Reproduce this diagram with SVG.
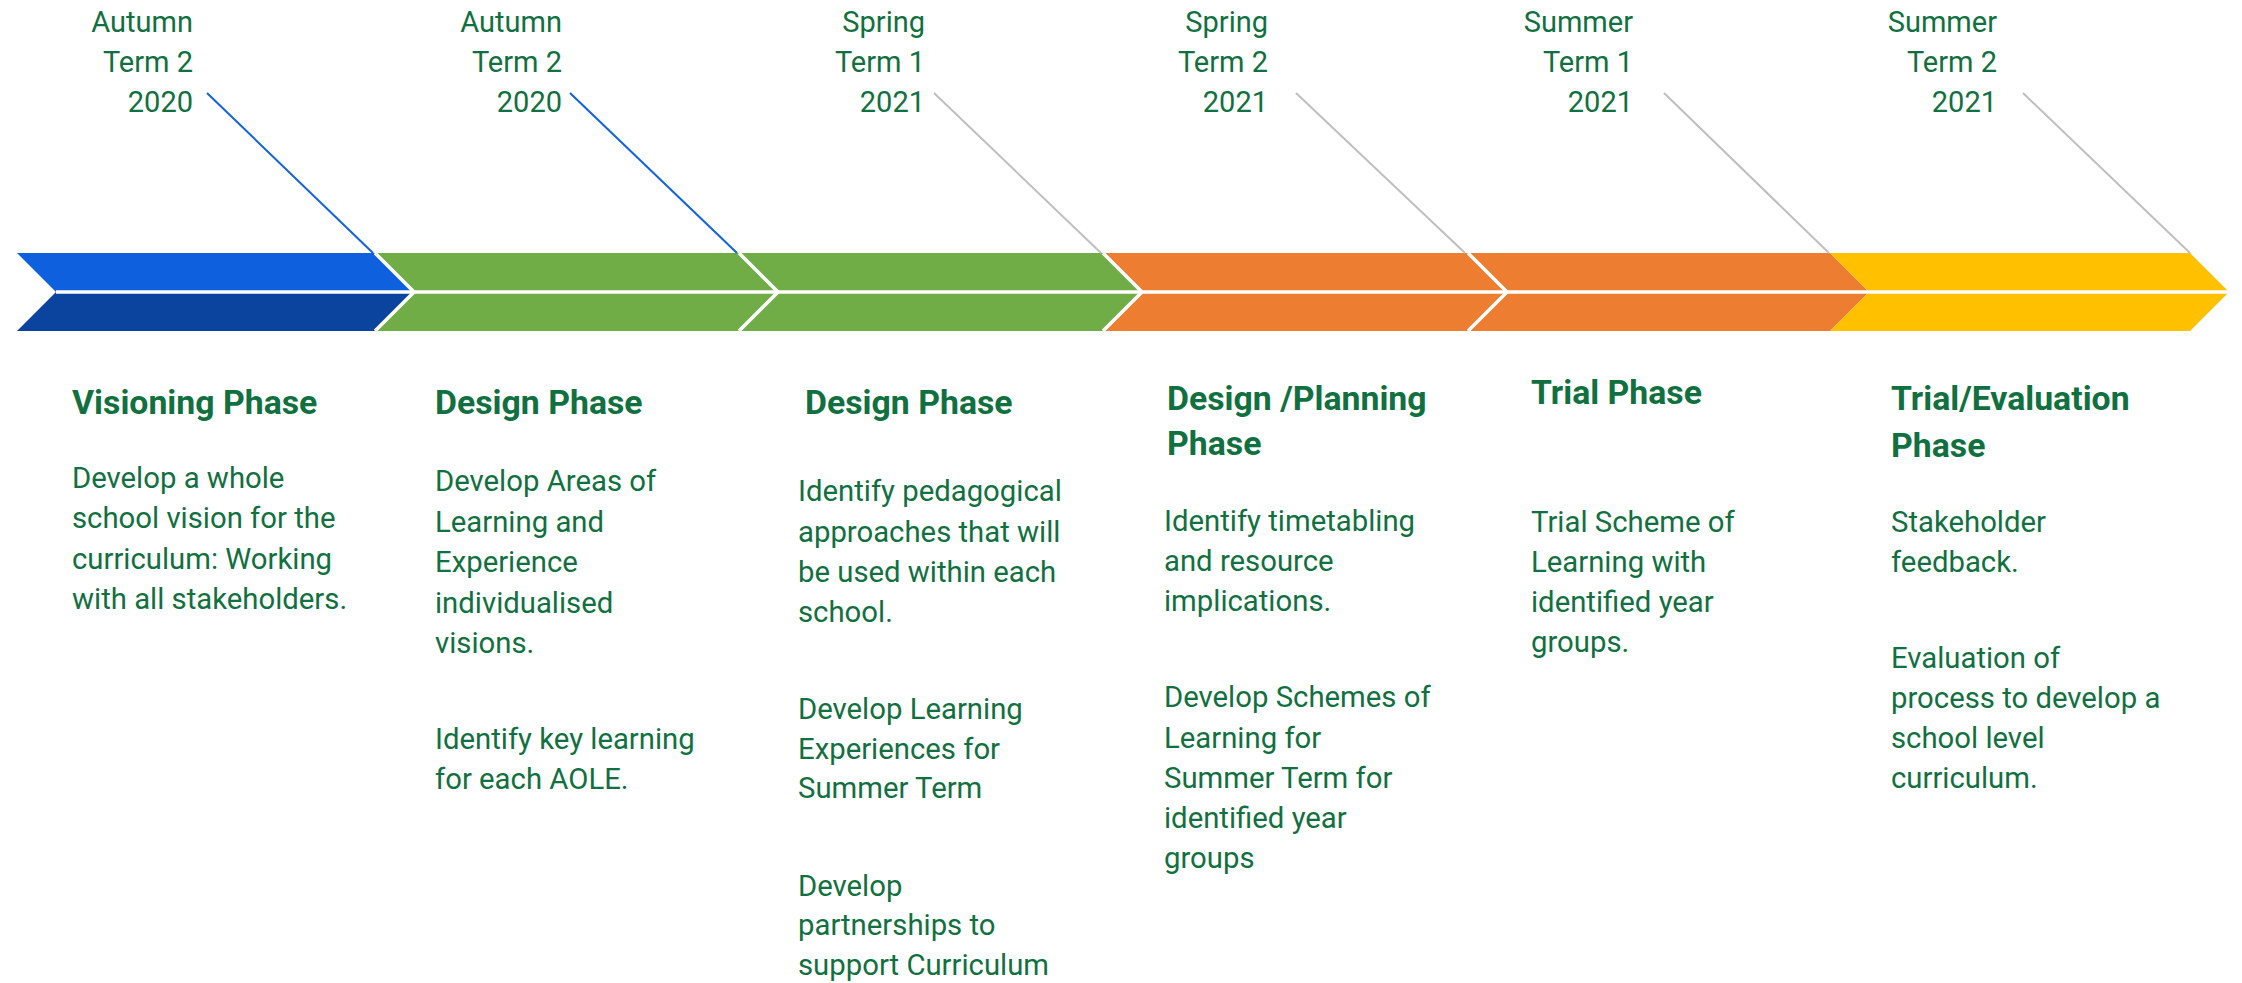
<svg xmlns="http://www.w3.org/2000/svg" width="2242" height="983" viewBox="0 0 2242 983">
<style>
  text { font-family: Roboto, "Liberation Sans", sans-serif; fill: #11703F; }
  .yr { font-size: 29px; text-anchor: end; }
  .hd { font-size: 33.8px; font-weight: bold; }
  .bd { font-size: 29.3px; }
  .sep { stroke: #ffffff; stroke-width: 3.5; fill: none; }
  .ldb { stroke: #1062DE; stroke-width: 2; }
  .ldg { stroke: #BFBFBF; stroke-width: 2; }
</style>
<rect x="0" y="0" width="2242" height="983" fill="#ffffff"/>

<g id="node-1">
  <polygon points="17,253 375,253 414,292 56,292" fill="#0F60DE"/>
  <polygon points="56,292 414,292 375,331 17,331" fill="#0B449F"/>
  <text class="yr"><tspan x="193" y="32">Autumn</tspan><tspan x="193" y="72">Term 2</tspan><tspan x="193" y="112">2020</tspan></text>
  <text class="hd" x="72" y="414">Visioning Phase</text>
  <text class="bd"><tspan x="72" y="488">Develop a whole</tspan><tspan x="72" y="528">school vision for the</tspan><tspan x="72" y="569">curriculum: Working</tspan><tspan x="72" y="609">with all stakeholders.</tspan></text>
</g>

<g id="node-2">
  <polygon points="375,253 739,253 778,292 414,292" fill="#70AD47"/>
  <polygon points="414,292 778,292 739,331 375,331" fill="#70AD47"/>
  <text class="yr"><tspan x="562" y="32">Autumn</tspan><tspan x="562" y="72">Term 2</tspan><tspan x="562" y="112">2020</tspan></text>
  <text class="hd" x="435" y="414">Design Phase</text>
  <text class="bd"><tspan x="435" y="491">Develop Areas of</tspan><tspan x="435" y="532">Learning and</tspan><tspan x="435" y="572">Experience</tspan><tspan x="435" y="613">individualised</tspan><tspan x="435" y="653">visions.</tspan><tspan x="435" y="749">Identify key learning</tspan><tspan x="435" y="789">for each AOLE.</tspan></text>
</g>

<g id="node-3">
  <polygon points="739,253 1103,253 1142,292 778,292" fill="#70AD47"/>
  <polygon points="778,292 1142,292 1103,331 739,331" fill="#70AD47"/>
  <text class="yr"><tspan x="925" y="32">Spring</tspan><tspan x="925" y="72">Term 1</tspan><tspan x="925" y="112">2021</tspan></text>
  <text class="hd" x="805" y="414">Design Phase</text>
  <text class="bd"><tspan x="798" y="501">Identify pedagogical</tspan><tspan x="798" y="542">approaches that will</tspan><tspan x="798" y="582">be used within each</tspan><tspan x="798" y="622">school.</tspan><tspan x="798" y="719">Develop Learning</tspan><tspan x="798" y="759">Experiences for</tspan><tspan x="798" y="798">Summer Term</tspan><tspan x="798" y="896">Develop</tspan><tspan x="798" y="935">partnerships to</tspan><tspan x="798" y="975">support Curriculum</tspan></text>
</g>

<g id="node-4">
  <polygon points="1103,253 1468,253 1507,292 1142,292" fill="#ED7D31"/>
  <polygon points="1142,292 1507,292 1468,331 1103,331" fill="#ED7D31"/>
  <text class="yr"><tspan x="1268" y="32">Spring</tspan><tspan x="1268" y="72">Term 2</tspan><tspan x="1268" y="112">2021</tspan></text>
  <text class="hd"><tspan x="1167" y="410">Design /Planning</tspan><tspan x="1167" y="455">Phase</tspan></text>
  <text class="bd"><tspan x="1164" y="531">Identify timetabling</tspan><tspan x="1164" y="571">and resource</tspan><tspan x="1164" y="611">implications.</tspan><tspan x="1164" y="707">Develop Schemes of</tspan><tspan x="1164" y="748">Learning for</tspan><tspan x="1164" y="788">Summer Term for</tspan><tspan x="1164" y="828">identified year</tspan><tspan x="1164" y="868">groups</tspan></text>
</g>

<g id="node-5">
  <polygon points="1468,253 1830,253 1869,292 1507,292" fill="#ED7D31"/>
  <polygon points="1507,292 1869,292 1830,331 1468,331" fill="#ED7D31"/>
  <text class="yr"><tspan x="1633" y="32">Summer</tspan><tspan x="1633" y="72">Term 1</tspan><tspan x="1633" y="112">2021</tspan></text>
  <text class="hd" x="1531" y="404">Trial Phase</text>
  <text class="bd"><tspan x="1531" y="532">Trial Scheme of</tspan><tspan x="1531" y="572">Learning with</tspan><tspan x="1531" y="612">identified year</tspan><tspan x="1531" y="652">groups.</tspan></text>
</g>

<g id="node-6">
  <polygon points="1830,253 2190,253 2229,292 1869,292" fill="#FFC000"/>
  <polygon points="1869,292 2229,292 2190,331 1830,331" fill="#FFC000"/>
  <text class="yr"><tspan x="1997" y="32">Summer</tspan><tspan x="1997" y="72">Term 2</tspan><tspan x="1997" y="112">2021</tspan></text>
  <text class="hd"><tspan x="1891" y="410">Trial/Evaluation</tspan><tspan x="1891" y="457">Phase</tspan></text>
  <text class="bd"><tspan x="1891" y="532">Stakeholder</tspan><tspan x="1891" y="572">feedback.</tspan><tspan x="1891" y="668">Evaluation of</tspan><tspan x="1891" y="708">process to develop a</tspan><tspan x="1891" y="748">school level</tspan><tspan x="1891" y="788">curriculum.</tspan></text>
</g>

<g id="separators">
  <line class="sep" x1="56" y1="292" x2="2229" y2="292"/>
  <polyline class="sep" points="375,253 414,292 375,331"/>
  <polyline class="sep" points="739,253 778,292 739,331"/>
  <polyline class="sep" points="1103,253 1142,292 1103,331"/>
  <polyline class="sep" points="1468,253 1507,292 1468,331"/>
</g>

<g id="connectors">
  <line class="ldb" x1="207" y1="93" x2="373" y2="253"/>
  <line class="ldb" x1="570" y1="93" x2="737" y2="253"/>
  <line class="ldg" x1="934" y1="93" x2="1101" y2="253"/>
  <line class="ldg" x1="1296" y1="93" x2="1465" y2="253"/>
  <line class="ldg" x1="1664" y1="93" x2="1829" y2="253"/>
  <line class="ldg" x1="2023" y1="93" x2="2190" y2="253"/>
</g>
</svg>
